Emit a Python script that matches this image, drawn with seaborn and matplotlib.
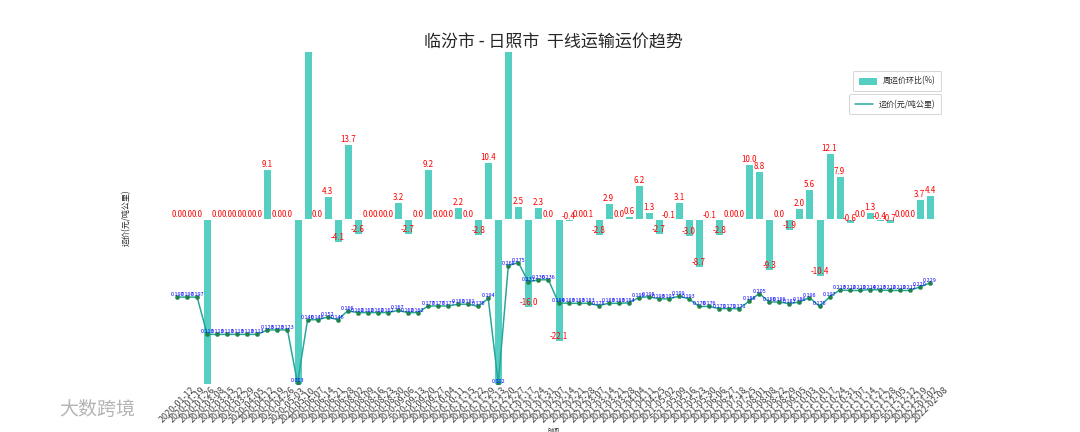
import numpy as np
import pandas as pd
import matplotlib.pyplot as plt
import seaborn as sns
from matplotlib.patches import Patch
from matplotlib.lines import Line2D

# 日期（周）
dates = [
    "2020-01-12", "2020-01-19", "2020-01-26", "2020-03-08", "2020-03-15", "2020-03-22",
    "2020-03-29", "2020-04-05", "2020-04-12", "2020-04-19", "2020-04-26", "2020-05-03",
    "2020-05-10", "2020-06-07", "2020-06-14", "2020-06-21", "2020-06-28", "2020-08-02",
    "2020-08-09", "2020-08-16", "2020-08-23", "2020-08-30", "2020-09-06", "2020-09-13",
    "2020-09-20", "2020-09-27", "2020-10-04", "2020-10-11", "2020-11-15", "2020-11-22",
    "2020-11-29", "2020-12-13", "2020-12-20", "2020-12-27", "2021-01-17", "2021-01-24",
    "2021-01-31", "2021-02-07", "2021-02-14", "2021-02-21", "2021-02-28", "2021-03-07",
    "2021-03-14", "2021-03-21", "2021-03-28", "2021-04-04", "2021-04-11", "2021-04-25",
    "2021-05-02", "2021-05-09", "2021-05-16", "2021-05-23", "2021-05-30", "2021-06-06",
    "2021-06-27", "2021-07-18", "2021-07-25", "2021-08-01", "2021-08-08", "2021-08-22",
    "2021-08-29", "2021-09-05", "2021-10-03", "2021-10-10", "2021-10-17", "2021-10-24",
    "2021-10-31", "2021-11-07", "2021-11-14", "2021-11-21", "2021-11-28", "2021-12-05",
    "2021-12-12", "2021-12-19", "2022-01-02", "2022-02-08",
]

# 周运价环比(%)
pct_change = [
    0.0, 0.0, 0.0, -42.6, 0.0, 0.0, 0.0, 0.0, 0.0, 9.1, 0.0, 0.0,
    -97.6, 4766.7, 0.0, 4.3, -4.1, 13.7, -2.6, 0.0, 0.0, 0.0, 3.2, -2.7,
    0.0, 9.2, 0.0, 0.0, 2.2, 0.0, -2.8, 10.4, -99.0, 13300.0, 2.5, -16.0,
    2.3, 0.0, -22.1, -0.4, 0.0, 0.1, -2.8, 2.9, 0.0, 0.6, 6.2, 1.3,
    -2.7, -0.1, 3.1, -3.0, -8.7, -0.1, -2.8, 0.0, 0.0, 10.0, 8.8, -9.3,
    0.0, -1.9, 2.0, 5.6, -10.4, 12.1, 7.9, -0.6, 0.0, 1.3, -0.4, -0.7,
    0.0, 0.0, 3.7, 4.4,
]

# 运价(元/吨公里)
price = [
    0.197, 0.197, 0.197, 0.113, 0.113, 0.113, 0.113, 0.113, 0.113, 0.123, 0.123, 0.123,
    0.003, 0.146, 0.146, 0.152, 0.146, 0.166, 0.162, 0.162, 0.162, 0.162, 0.167, 0.162,
    0.162, 0.177, 0.177, 0.177, 0.181, 0.181, 0.176, 0.194, 0.002, 0.268, 0.275, 0.231,
    0.236, 0.236, 0.184, 0.183, 0.183, 0.183, 0.178, 0.183, 0.183, 0.184, 0.196, 0.198,
    0.193, 0.193, 0.199, 0.193, 0.176, 0.176, 0.171, 0.171, 0.171, 0.188, 0.205, 0.186,
    0.186, 0.182, 0.186, 0.196, 0.176, 0.197, 0.213, 0.212, 0.212, 0.214, 0.213, 0.212,
    0.212, 0.212, 0.220, 0.229,
]

bar_color = "#55CFC2"
line_color = "#26A69A"
dot_color = "#1E8449"
bar_ylim = (-30.1, 30.5)

sns.set_theme(style="white")
plt.rcParams['font.family'] = ['Noto Sans CJK SC', 'DejaVu Sans']
plt.rcParams['axes.unicode_minus'] = False

df = pd.DataFrame({'日期': dates, '环比': pct_change, '运价': price})
x = np.arange(len(df))

fig, ax1 = plt.subplots(figsize=(15, 6), dpi=72)

sns.barplot(data=df, x='日期', y='环比', color=bar_color, saturation=1,
            width=0.8, ax=ax1)
ax1.set_ylim(*bar_ylim)
ax1.set_xlim(-4.19, 79.19)

# 超出坐标范围的柱子标签在原图中看不到
for i, v in enumerate(pct_change):
    if bar_ylim[0] < v < bar_ylim[1]:
        ax1.text(i, v, '{:.1f}'.format(v), ha='center', va='bottom',
                 color='red', fontsize=8)

ax2 = ax1.twinx()
sns.lineplot(x=x, y=df['运价'], ax=ax2, color=line_color, linewidth=1.5)
sns.scatterplot(x=x, y=df['运价'], ax=ax2, color=dot_color, s=18,
                edgecolor=None, legend=False, zorder=3)
ax2.set_ylim(0, 0.75)
for i, v in enumerate(price):
    ax2.text(i, v, '{:.3f}'.format(v), ha='center', va='bottom',
             color='blue', fontsize=5.5)

for ax in (ax1, ax2):
    for s in ax.spines.values():
        s.set_visible(False)
    ax.set_yticks([])
ax2.set_ylabel('')

ax1.set_title('临汾市 - 日照市  干线运输运价趋势', fontsize=17, pad=3)
ax1.set_ylabel('运价(元/吨公里)', fontsize=8)
ax1.set_xlabel('时间', fontsize=6)
ax1.tick_params(axis='x', labelsize=9, rotation=45, length=0, pad=1,
                labelcolor='#444444')

ax1.legend(handles=[Patch(color=bar_color, label='周运价环比(%)')],
           loc='upper right', bbox_to_anchor=(0.968, 0.955), fontsize=8,
           borderpad=0.7, handlelength=2.2)
ax2.legend(handles=[Line2D([0], [0], color=line_color, lw=1.5, label='运价(元/吨公里)')],
           loc='upper right', bbox_to_anchor=(0.968, 0.885), fontsize=8,
           borderpad=0.7, handlelength=2.2)

fig.text(0.055, 0.052, '大数跨境', fontsize=19, color='#b4b4b4', va='center')

plt.savefig('out.png', dpi=72)
